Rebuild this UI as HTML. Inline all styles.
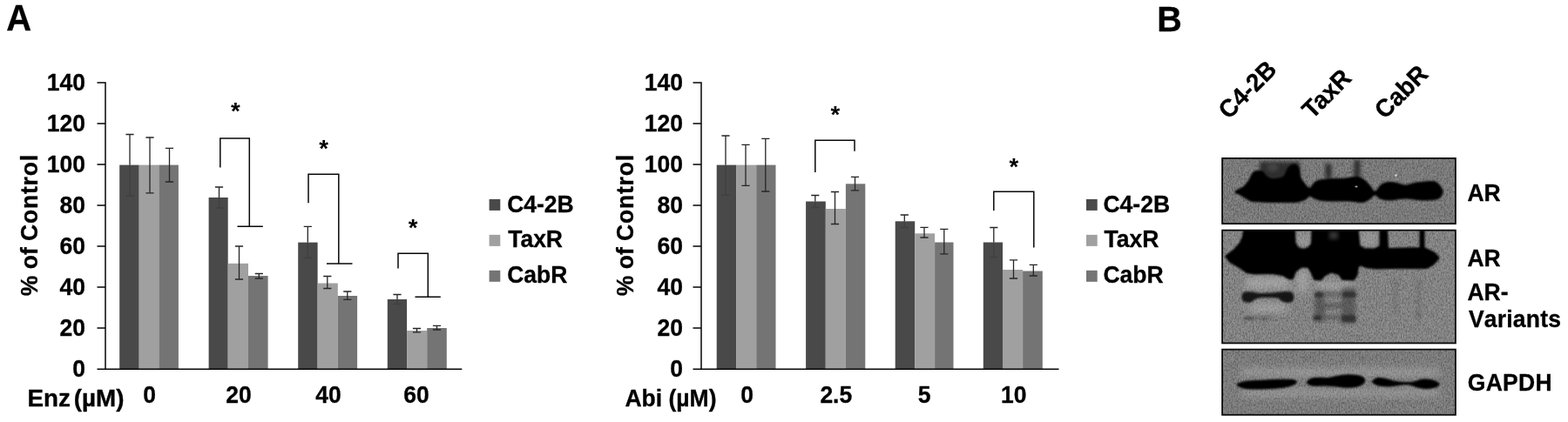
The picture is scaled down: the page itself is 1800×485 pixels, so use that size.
<!DOCTYPE html>
<html lang="en"><head><meta charset="utf-8"><title>Figure</title>
<style>
html,body{margin:0;padding:0;background:#fff}
body{width:1800px;height:485px;overflow:hidden}
svg{display:block}
text{font-family:"Liberation Sans", sans-serif;font-weight:700;fill:#000;stroke:#000;stroke-width:0.3px;stroke-linejoin:round}
.ax{fill:none;stroke:#050505;stroke-width:1.5}
.br{fill:none;stroke:#080808;stroke-width:1.5}
.eb{fill:none;stroke:#262626;stroke-width:1.3}
</style></head><body>
<svg width="1800" height="485" viewBox="0 0 1800 485">
<defs>
<filter id="noise" x="0" y="0" width="100%" height="100%" color-interpolation-filters="sRGB">
<feTurbulence type="fractalNoise" baseFrequency="0.7 0.4" numOctaves="2" seed="7" result="n"/>
<feColorMatrix in="n" type="matrix" values="0 0 0 0 0  0 0 0 0 0  0 0 0 0 0  1.8 1.8 0 0 -1.55"/>
<feComposite in2="SourceGraphic" operator="in"/>
</filter>
<filter id="noise2" x="0" y="0" width="100%" height="100%" color-interpolation-filters="sRGB">
<feTurbulence type="fractalNoise" baseFrequency="0.5 0.12" numOctaves="2" seed="23" result="n"/>
<feColorMatrix in="n" type="matrix" values="0 0 0 0 0  0 0 0 0 0  0 0 0 0 0  0 1.8 1.8 0 -1.45"/>
<feComposite in2="SourceGraphic" operator="in"/>
</filter>
<filter id="b05" x="-50%" y="-50%" width="200%" height="200%"><feGaussianBlur stdDeviation="0.6"/></filter>
<filter id="b1" x="-20%" y="-50%" width="140%" height="200%"><feGaussianBlur stdDeviation="1.1"/></filter>
<filter id="b2" x="-30%" y="-50%" width="160%" height="200%"><feGaussianBlur stdDeviation="2.2"/></filter>
<filter id="b4" x="-30%" y="-60%" width="160%" height="220%"><feGaussianBlur stdDeviation="4"/></filter>
<clipPath id="c1"><rect x="1403.1" y="181.9" width="267.8" height="75.2"/></clipPath>
<clipPath id="c2"><rect x="1403.1" y="264.6" width="267.8" height="129.8"/></clipPath>
<clipPath id="c3"><rect x="1403.1" y="401.6" width="267.8" height="75.2"/></clipPath>
</defs>
<rect width="1800" height="485" fill="#fff"/>

<text transform="translate(7.3 35.3) scale(1 1.04)" font-size="40" text-anchor="start" >A</text>
<text transform="translate(1328.3 35.7) scale(1 1.04)" font-size="39.6" text-anchor="start" >B</text>
<rect x="137.2" y="189.6" width="22.50" height="234.90" fill="#494949"/>
<rect x="159.7" y="189.6" width="22.70" height="234.90" fill="#a0a0a0"/>
<rect x="182.4" y="189.6" width="22.50" height="234.90" fill="#747474"/>
<rect x="239.6" y="227" width="22.10" height="197.50" fill="#494949"/>
<rect x="261.7" y="302.8" width="23.30" height="121.70" fill="#a0a0a0"/>
<rect x="285.0" y="317" width="22.60" height="107.50" fill="#747474"/>
<rect x="342.2" y="278.6" width="22.40" height="145.90" fill="#494949"/>
<rect x="364.6" y="325.5" width="23.20" height="99.00" fill="#a0a0a0"/>
<rect x="387.8" y="340" width="22.30" height="84.50" fill="#747474"/>
<rect x="444.8" y="344" width="22.30" height="80.50" fill="#494949"/>
<rect x="467.1" y="380" width="23.10" height="44.50" fill="#a0a0a0"/>
<rect x="490.2" y="377" width="22.60" height="47.50" fill="#747474"/>
<path d="M144.4 154.5H153.6M149 154.5V189.6" class="eb"/>
<path d="M149 189.6V225M144.4 225H153.6" class="eb" style="stroke:#3a3a3a;opacity:.6"/>
<path d="M167.4 158H176.6M172 158V221.8M167.4 221.8H176.6" class="eb"/>
<path d="M189.9 170.3H199.1M194.5 170.3V209M189.9 209H199.1" class="eb"/>
<path d="M246.9 215H256.1M251.5 215V227" class="eb"/>
<path d="M251.5 227V239M246.9 239H256.1" class="eb" style="stroke:#3a3a3a;opacity:.6"/>
<path d="M269.9 283H279.1M274.5 283V321M269.9 321H279.1" class="eb"/>
<path d="M292.7 314.5H301.90000000000003M297.3 314.5V320M292.7 320H301.90000000000003" class="eb"/>
<path d="M348.7 260.3H357.90000000000003M353.3 260.3V278.6" class="eb"/>
<path d="M353.3 278.6V296.5M348.7 296.5H357.90000000000003" class="eb" style="stroke:#3a3a3a;opacity:.6"/>
<path d="M371.2 317.5H380.40000000000003M375.8 317.5V331.5M371.2 331.5H380.40000000000003" class="eb"/>
<path d="M394.2 335H403.40000000000003M398.8 335V344.3M394.2 344.3H403.40000000000003" class="eb"/>
<path d="M451.4 338.5H460.6M456 338.5V344" class="eb"/>
<path d="M456 344V349.5M451.4 349.5H460.6" class="eb" style="stroke:#3a3a3a;opacity:.6"/>
<path d="M473.9 377.5H483.1M478.5 377.5V381.8M473.9 381.8H483.1" class="eb"/>
<path d="M496.9 374.3H506.1M501.5 374.3V379M496.9 379H506.1" class="eb"/>
<path d="M121 94.3V424.9M111.5 95H121M111.5 142H121M111.5 189H121M111.5 236H121M111.5 283H121M111.5 330H121M111.5 377H121M111.5 424.25H530.3" class="ax"/>
<text transform="translate(98 103.8) scale(1 1.04)" font-size="26.5" text-anchor="end" >140</text>
<text transform="translate(98 150.8) scale(1 1.04)" font-size="26.5" text-anchor="end" >120</text>
<text transform="translate(98 197.8) scale(1 1.04)" font-size="26.5" text-anchor="end" >100</text>
<text transform="translate(98 244.8) scale(1 1.04)" font-size="26.5" text-anchor="end" >80</text>
<text transform="translate(98 291.8) scale(1 1.04)" font-size="26.5" text-anchor="end" >60</text>
<text transform="translate(98 338.8) scale(1 1.04)" font-size="26.5" text-anchor="end" >40</text>
<text transform="translate(98 385.8) scale(1 1.04)" font-size="26.5" text-anchor="end" >20</text>
<text transform="translate(98 432.8) scale(1 1.04)" font-size="26.5" text-anchor="end" >0</text>
<text transform="translate(171.7 462.8) scale(1 1.04)" font-size="26.5" text-anchor="middle" >0</text>
<text transform="translate(274 462.8) scale(1 1.04)" font-size="26.5" text-anchor="middle" >20</text>
<text transform="translate(376.9 462.8) scale(1 1.04)" font-size="26.5" text-anchor="middle" >40</text>
<text transform="translate(478.1 462.8) scale(1 1.04)" font-size="26.5" text-anchor="middle" >60</text>
<text transform="translate(31.4 467.3) scale(1.05 1.04)" font-size="26.5">Enz</text>
<text transform="translate(84.8 467.3) scale(1.05 1.04)" font-size="26.5">(µM)</text>
<text transform="translate(43.2 340.2) rotate(-90) scale(1 1.04)" font-size="26.5">% of <tspan style="letter-spacing:0.8px">Control</tspan></text>
<rect x="561.6" y="228.90" width="12.7" height="13" fill="#494949"/>
<text transform="translate(582.2 243.5) scale(1 1.04)" font-size="26.5" text-anchor="start" >C4-2B</text>
<rect x="561.6" y="269.85" width="12.7" height="13" fill="#a0a0a0"/>
<text transform="translate(583.2 284.45) scale(1 1.04)" font-size="26.5" text-anchor="start" >TaxR</text>
<rect x="561.6" y="310.80" width="12.7" height="13" fill="#747474"/>
<text transform="translate(582.2 325.4) scale(1 1.04)" font-size="26.5" text-anchor="start" >CabR</text>
<path d="M252.8 192.5V159H286.3V260.3M272.5 260.3H301.8" class="br"/>
<path d="M354 233.3V200.3H388.8V303M375 303H404.5" class="br"/>
<path d="M457 308.5V291.3H491.3V341.3M476.5 341.3H505.8" class="br"/>
<text x="270.3" y="137.3" font-size="27.5" text-anchor="middle" style="stroke:none">*</text>
<text x="371.5" y="179.8" font-size="27.5" text-anchor="middle" style="stroke:none">*</text>
<text x="474" y="271.0" font-size="27.5" text-anchor="middle" style="stroke:none">*</text>
<rect x="822.7" y="189.6" width="22.40" height="234.90" fill="#494949"/>
<rect x="845.1" y="189.6" width="23.10" height="234.90" fill="#a0a0a0"/>
<rect x="868.2" y="189.6" width="22.30" height="234.90" fill="#747474"/>
<rect x="925.1" y="231.5" width="22.70" height="193.00" fill="#494949"/>
<rect x="947.8" y="240" width="23.10" height="184.50" fill="#a0a0a0"/>
<rect x="970.9" y="211.3" width="22.40" height="213.20" fill="#747474"/>
<rect x="1027.7" y="254.3" width="22.50" height="170.20" fill="#494949"/>
<rect x="1050.2" y="268.3" width="22.90" height="156.20" fill="#a0a0a0"/>
<rect x="1073.1" y="278.5" width="21.40" height="146.00" fill="#747474"/>
<rect x="1128.8" y="278.5" width="22.20" height="146.00" fill="#494949"/>
<rect x="1151.0" y="310" width="23.10" height="114.50" fill="#a0a0a0"/>
<rect x="1174.1" y="311.5" width="22.70" height="113.00" fill="#747474"/>
<path d="M828.4 156H837.6M833 156V189.6" class="eb"/>
<path d="M833 189.6V224M828.4 224H837.6" class="eb" style="stroke:#3a3a3a;opacity:.6"/>
<path d="M851.4 166.3H860.6M856 166.3V213.3M851.4 213.3H860.6" class="eb"/>
<path d="M874.1999999999999 159.3H883.4M878.8 159.3V220M874.1999999999999 220H883.4" class="eb"/>
<path d="M931.1999999999999 224.5H940.4M935.8 224.5V231.5" class="eb"/>
<path d="M935.8 231.5V238.5M931.1999999999999 238.5H940.4" class="eb" style="stroke:#3a3a3a;opacity:.6"/>
<path d="M953.9 220.5H963.1M958.5 220.5V257.5M953.9 257.5H963.1" class="eb"/>
<path d="M976.9 203.3H986.1M981.5 203.3V218.8M976.9 218.8H986.1" class="eb"/>
<path d="M1033.7 247H1042.8999999999999M1038.3 247V254.3" class="eb"/>
<path d="M1038.3 254.3V261.5M1033.7 261.5H1042.8999999999999" class="eb" style="stroke:#3a3a3a;opacity:.6"/>
<path d="M1056.4 261.3H1065.6M1061 261.3V273M1056.4 273H1065.6" class="eb"/>
<path d="M1079.2 263.3H1088.3999999999999M1083.8 263.3V291.8M1079.2 291.8H1088.3999999999999" class="eb"/>
<path d="M1136.2 261.5H1145.3999999999999M1140.8 261.5V278.5" class="eb"/>
<path d="M1140.8 278.5V295.5M1136.2 295.5H1145.3999999999999" class="eb" style="stroke:#3a3a3a;opacity:.6"/>
<path d="M1158.9 298.8H1168.1M1163.5 298.8V320M1158.9 320H1168.1" class="eb"/>
<path d="M1181.7 304.3H1190.8999999999999M1186.3 304.3V317M1181.7 317H1190.8999999999999" class="eb"/>
<path d="M805.0 94.3V424.9M795.5 95H805.0M795.5 142H805.0M795.5 189H805.0M795.5 236H805.0M795.5 283H805.0M795.5 330H805.0M795.5 377H805.0M795.5 424.25H1215.5" class="ax"/>
<text transform="translate(784 103.8) scale(1 1.04)" font-size="26.5" text-anchor="end" >140</text>
<text transform="translate(784 150.8) scale(1 1.04)" font-size="26.5" text-anchor="end" >120</text>
<text transform="translate(784 197.8) scale(1 1.04)" font-size="26.5" text-anchor="end" >100</text>
<text transform="translate(784 244.8) scale(1 1.04)" font-size="26.5" text-anchor="end" >80</text>
<text transform="translate(784 291.8) scale(1 1.04)" font-size="26.5" text-anchor="end" >60</text>
<text transform="translate(784 338.8) scale(1 1.04)" font-size="26.5" text-anchor="end" >40</text>
<text transform="translate(784 385.8) scale(1 1.04)" font-size="26.5" text-anchor="end" >20</text>
<text transform="translate(784 432.8) scale(1 1.04)" font-size="26.5" text-anchor="end" >0</text>
<text transform="translate(857.6 462.8) scale(1 1.04)" font-size="26.5" text-anchor="middle" >0</text>
<text transform="translate(959.8 462.8) scale(1 1.04)" font-size="26.5" text-anchor="middle" >2.5</text>
<text transform="translate(1061.1 462.8) scale(1 1.04)" font-size="26.5" text-anchor="middle" >5</text>
<text transform="translate(1163.8 462.8) scale(1 1.04)" font-size="26.5" text-anchor="middle" >10</text>
<text transform="translate(717.5 467.3) scale(1 1.04)" font-size="26.5" text-anchor="start" >Abi (µM)</text>
<text transform="translate(727.3 340.2) rotate(-90) scale(1 1.04)" font-size="26.5">% of <tspan style="letter-spacing:0.8px">Control</tspan></text>
<rect x="1247" y="228.90" width="12.7" height="13" fill="#494949"/>
<text transform="translate(1266.5 243.5) scale(1 1.04)" font-size="26.5" text-anchor="start" >C4-2B</text>
<rect x="1247" y="269.85" width="12.7" height="13" fill="#a0a0a0"/>
<text transform="translate(1267.5 284.45) scale(1 1.04)" font-size="26.5" text-anchor="start" >TaxR</text>
<rect x="1247" y="310.80" width="12.7" height="13" fill="#747474"/>
<text transform="translate(1266.5 325.4) scale(1 1.04)" font-size="26.5" text-anchor="start" >CabR</text>
<path d="M935.8 198V161.3H981V173.8" class="br"/>
<path d="M1140.8 242V220.3H1186.8V284.5" class="br"/>
<text x="958.8" y="141.1" font-size="27.5" text-anchor="middle" style="stroke:none">*</text>
<text x="1163.8" y="201.0" font-size="27.5" text-anchor="middle" style="stroke:none">*</text>
<text transform="translate(1410.5 138.2) rotate(-45) scale(1 1.04)" font-size="27.7">C4-2B</text>
<text transform="translate(1506.5 137.8) rotate(-45) scale(1 1.04)" font-size="27.7">TaxR</text>
<text transform="translate(1589.8 138) rotate(-45) scale(1 1.04)" font-size="27.7">CabR</text>
<g clip-path="url(#c1)">
<rect x="1403.1" y="181.9" width="267.8" height="75.2" fill="#888888"/>
<rect x="1403.1" y="181.9" width="267.8" height="75.2" fill="#fff" filter="url(#noise)" opacity="0.3"/>
<rect x="1403.1" y="181.9" width="267.8" height="75.2" fill="#000" filter="url(#noise2)" opacity="0.08"/>
<g filter="url(#b2)" fill="#262626" opacity="0.9">
<rect x="1446" y="186" width="46" height="20"/>
<rect x="1521.5" y="188" width="7" height="18"/>
<rect x="1554.5" y="184" width="7" height="20"/>
</g>
<g filter="url(#b2)" fill="#5c5c5c" opacity="0.5"><ellipse cx="1461" cy="192.5" rx="7" ry="4.5"/></g>
<path d="M1417.5 220.5C1418.2 219.0 1424.8 216.8 1427.5 214.5C1430.2 212.2 1432.3 209.0 1434.0 206.5C1435.7 204.0 1436.3 201.1 1437.5 199.5C1438.7 197.9 1439.1 197.2 1441.0 196.8C1442.9 196.4 1447.0 196.0 1449.0 196.8C1451.0 197.6 1451.2 200.1 1453.0 201.5C1454.8 202.9 1456.7 204.8 1460.0 205.0C1463.3 205.2 1470.0 204.8 1473.0 203.0C1476.0 201.2 1476.4 196.2 1478.0 194.0C1479.6 191.8 1480.8 190.2 1482.5 189.5C1484.2 188.8 1487.0 188.6 1488.5 189.5C1490.0 190.4 1490.8 192.8 1491.5 195.0C1492.2 197.2 1491.6 200.5 1492.5 203.0C1493.4 205.5 1495.2 207.8 1497.0 210.0C1498.8 212.2 1501.3 216.2 1503.5 216.0C1505.7 215.8 1507.6 210.6 1510.0 209.0C1512.4 207.4 1514.7 207.1 1518.0 206.5C1521.3 205.9 1525.5 205.8 1530.0 205.5C1534.5 205.2 1540.5 205.4 1545.0 205.0C1549.5 204.6 1553.7 202.8 1557.0 203.0C1560.3 203.2 1562.5 204.4 1565.0 206.0C1567.5 207.6 1569.8 210.2 1572.0 212.5C1574.2 214.8 1576.2 220.1 1578.5 220.0C1580.8 219.9 1583.2 213.8 1586.0 212.0C1588.8 210.2 1592.0 209.6 1595.0 209.3C1598.0 209.1 1600.9 209.9 1604.0 210.5C1607.1 211.1 1610.3 213.0 1613.5 213.0C1616.7 213.0 1619.9 211.1 1623.0 210.5C1626.1 209.9 1628.3 209.6 1632.0 209.3C1635.7 209.0 1641.8 208.2 1645.0 208.5C1648.2 208.8 1649.4 209.8 1651.0 211.0C1652.6 212.2 1653.6 214.4 1654.5 216.0C1655.4 217.6 1656.3 218.8 1656.2 220.5C1656.1 222.2 1655.2 224.6 1654.0 226.0C1652.8 227.4 1652.5 228.3 1648.8 229.0C1645.1 229.7 1637.9 230.2 1632.0 230.0C1626.1 229.8 1619.7 228.0 1613.5 228.0C1607.3 228.0 1599.9 230.0 1595.0 230.0C1590.1 230.0 1586.8 229.0 1584.0 228.0C1581.2 227.0 1580.5 223.8 1578.5 224.0C1576.5 224.2 1574.5 227.6 1572.0 229.0C1569.5 230.4 1567.4 232.2 1563.5 232.5C1559.6 232.8 1554.9 231.2 1548.5 231.0C1542.1 230.8 1530.6 231.2 1525.0 231.0C1519.4 230.8 1517.7 230.5 1515.0 230.0C1512.3 229.5 1510.9 228.8 1509.0 228.0C1507.1 227.2 1505.2 225.3 1503.5 225.5C1501.8 225.7 1500.4 228.2 1499.0 229.0C1497.6 229.8 1497.5 229.9 1495.0 230.5C1492.5 231.1 1492.9 232.3 1484.0 232.5C1475.1 232.7 1450.2 232.4 1441.5 231.8C1432.8 231.2 1435.1 230.4 1432.0 229.0C1428.9 227.6 1425.4 224.9 1423.0 223.5C1420.6 222.1 1416.8 222.0 1417.5 220.5Z" fill="#040404" stroke="#040404" stroke-width="1" stroke-linejoin="round" filter="url(#b1)"/>
<ellipse cx="1557" cy="214.5" rx="1.6" ry="0.9" fill="#ccc" filter="url(#b05)" opacity="0.8"/>
<circle cx="1602.4" cy="201.5" r="1.3" fill="#e4e4e4" filter="url(#b05)" opacity="0.85"/>
</g>
<rect x="1403.1" y="181.9" width="267.8" height="75.2" fill="none" stroke="#0a0a0a" stroke-width="1.8"/>
<g clip-path="url(#c2)">
<rect x="1403.1" y="264.6" width="267.8" height="129.8" fill="#929292"/>
<rect x="1403.1" y="264.6" width="267.8" height="129.8" fill="#fff" filter="url(#noise)" opacity="0.3"/>
<rect x="1403.1" y="264.6" width="267.8" height="129.8" fill="#000" filter="url(#noise2)" opacity="0.08"/>
<g filter="url(#b4)" fill="#c0c0c0" opacity="0.5">
<rect x="1430" y="318" width="50" height="14"/><rect x="1434" y="349" width="44" height="10"/>
<rect x="1489" y="310" width="13" height="26"/><rect x="1510" y="324" width="44" height="9"/>
<rect x="1489" y="268" width="15" height="14" opacity="0.7"/><rect x="1562" y="268" width="20" height="14" opacity="0.7"/>
</g>
<g filter="url(#b2)" fill="#303030" opacity="0.5">
<rect x="1540" y="330" width="16" height="42"/>
<rect x="1509" y="334" width="12" height="36"/>
<rect x="1509" y="349" width="47" height="5"/>
<rect x="1509" y="336" width="47" height="4"/>
<rect x="1509" y="363" width="47" height="4"/>
</g>
<g filter="url(#b2)" fill="#404040" opacity="0.22">
<rect x="1626" y="320" width="5" height="50"/><rect x="1600" y="320" width="4" height="44"/>
<rect x="1427" y="363" width="36" height="5"/>
</g>
<path d="M1428.5 262.0L1427.0 272.0L1424.0 279.0L1417.0 287.0L1407.0 294.5L1412.0 301.0L1424.0 308.0L1431.0 313.0L1440.0 314.5L1460.0 314.0L1472.0 316.0L1480.0 320.5L1484.0 320.0L1487.0 312.0L1494.0 306.5L1502.0 307.0L1506.0 314.0L1509.0 321.0L1516.0 321.5L1521.0 316.0L1528.0 312.5L1537.0 315.0L1541.0 321.0L1554.0 321.5L1557.5 316.0L1559.0 306.0L1562.0 304.5L1568.0 307.0L1580.0 308.5L1600.0 308.0L1638.0 308.0L1645.0 304.0L1651.6 296.5L1647.0 291.0L1640.0 287.5L1634.5 285.0L1634.5 262.0L1630.5 262.0L1630.5 285.0L1593.0 286.0L1592.0 262.0L1584.5 262.0L1584.5 283.0L1578.0 286.5L1566.0 286.0L1560.5 283.0L1558.5 262.0L1506.5 262.0L1506.0 280.0L1502.0 285.0L1496.0 287.0L1490.0 285.0L1486.5 279.0L1486.0 262.0Z" fill="#040404" stroke="#040404" stroke-width="2" stroke-linejoin="round" filter="url(#b1)"/>
<g filter="url(#b2)" fill="#3a3a3a" opacity="0.9"><rect x="1526" y="266" width="10" height="9"/></g>
<path d="M1425.5 340.0C1425.8 338.7 1426.2 336.8 1428.0 336.0C1429.8 335.2 1433.0 335.1 1436.0 335.3C1439.0 335.5 1442.0 336.8 1446.0 337.0C1450.0 337.2 1455.7 336.8 1460.0 336.5C1464.3 336.2 1468.5 335.5 1472.0 335.3C1475.5 335.1 1478.8 334.7 1481.0 335.3C1483.2 335.9 1484.4 337.3 1485.0 339.0C1485.6 340.7 1485.5 344.0 1484.5 345.5C1483.5 347.0 1481.1 347.8 1479.0 348.0C1476.9 348.2 1474.2 347.4 1472.0 346.5C1469.8 345.6 1469.7 343.2 1466.0 342.5C1462.3 341.8 1454.2 341.8 1450.0 342.0C1445.8 342.2 1443.3 343.1 1441.0 344.0C1438.7 344.9 1438.0 347.0 1436.0 347.5C1434.0 348.0 1430.7 347.6 1429.0 347.0C1427.3 346.4 1426.6 345.2 1426.0 344.0C1425.4 342.8 1425.2 341.3 1425.5 340.0Z" fill="#0c0c0c" filter="url(#b1)" opacity="0.92"/>
<g filter="url(#b1)" fill="#1c1c1c" opacity="0.6">
<rect x="1509.5" y="336" width="9" height="5.5" rx="2"/><rect x="1541.5" y="335" width="15" height="7" rx="2"/>
<rect x="1507" y="362.5" width="10" height="5.5" rx="2"/><rect x="1540" y="362" width="16.5" height="8" rx="2"/>
</g>
<g filter="url(#b1)" fill="#2a2a2a" opacity="0.45">
<rect x="1428" y="364.5" width="12" height="3" rx="1.5"/><rect x="1447" y="365.5" width="8" height="2" rx="1"/>
</g>
</g>
<rect x="1403.1" y="264.6" width="267.8" height="129.8" fill="none" stroke="#0a0a0a" stroke-width="1.8"/>
<g clip-path="url(#c3)">
<rect x="1403.1" y="401.6" width="267.8" height="75.2" fill="#8a8a8a"/>
<rect x="1403.1" y="401.6" width="267.8" height="75.2" fill="#fff" filter="url(#noise)" opacity="0.3"/>
<rect x="1403.1" y="401.6" width="267.8" height="75.2" fill="#000" filter="url(#noise2)" opacity="0.08"/>
<g filter="url(#b4)" fill="#c4c4c4" opacity="0.45">
<rect x="1424" y="424" width="228" height="8"/><rect x="1424" y="448" width="228" height="7"/>
</g>
<g filter="url(#b1)" fill="#040404" stroke="#040404" stroke-width="1.2" stroke-linejoin="round">
<path d="M1420.2 442.3C1420.2 441.2 1423.8 439.8 1427.4 439.0C1431.0 438.2 1436.1 438.0 1441.9 437.6C1447.8 437.2 1455.6 436.7 1462.5 436.5C1469.4 436.3 1478.8 436.1 1483.1 436.5C1487.4 436.9 1488.2 438.0 1488.2 439.0C1488.2 440.0 1485.7 441.7 1483.1 442.7C1480.5 443.7 1476.9 444.6 1472.8 445.2C1468.7 445.8 1464.2 446.1 1458.4 446.4C1452.6 446.7 1442.9 447.0 1437.7 446.9C1432.5 446.8 1430.3 446.6 1427.4 445.8C1424.5 445.0 1420.2 443.4 1420.2 442.3Z"/><path d="M1500.6 439.0C1501.4 437.8 1503.8 435.2 1507.8 434.5C1511.8 433.8 1519.5 434.9 1524.3 434.5C1529.1 434.1 1532.6 432.6 1536.7 432.0C1540.8 431.4 1545.0 430.7 1549.1 430.8C1553.2 430.9 1558.5 431.4 1561.4 432.4C1564.3 433.3 1566.2 434.9 1566.6 436.5C1566.9 438.1 1565.7 440.3 1563.5 441.7C1561.3 443.1 1557.0 444.3 1553.2 444.8C1549.4 445.3 1545.6 445.1 1540.8 444.8C1536.0 444.5 1529.8 443.4 1524.3 443.1C1518.8 442.8 1511.4 443.3 1507.8 443.1C1504.2 442.9 1503.9 442.4 1502.7 441.7C1501.5 441.0 1499.8 440.2 1500.6 439.0Z"/><path d="M1575.9 438.2C1576.6 437.2 1578.6 434.9 1581.0 434.5C1583.4 434.1 1586.7 434.8 1590.3 435.5C1593.9 436.2 1598.9 437.9 1602.7 438.6C1606.5 439.3 1609.6 439.5 1613.0 439.6C1616.4 439.7 1619.9 439.6 1623.3 439.0C1626.7 438.4 1630.2 436.4 1633.6 436.1C1637.0 435.8 1640.9 436.2 1643.9 437.0C1646.9 437.8 1651.1 439.8 1651.8 441.1C1652.5 442.4 1650.3 443.9 1648.0 444.8C1645.7 445.7 1641.1 446.4 1637.7 446.4C1634.3 446.4 1630.8 445.6 1627.4 444.8C1624.0 444.0 1620.5 442.1 1617.1 441.7C1613.7 441.3 1610.6 441.9 1606.8 442.3C1603.0 442.7 1598.5 443.7 1594.4 443.8C1590.3 443.9 1585.0 443.3 1582.1 442.7C1579.2 442.1 1577.9 441.1 1576.9 440.3C1575.9 439.6 1575.2 439.2 1575.9 438.2Z"/>
</g>
</g>
<rect x="1403.1" y="401.6" width="267.8" height="75.2" fill="none" stroke="#0a0a0a" stroke-width="1.8"/>
<text transform="translate(1684.5 231.3) scale(1 1.04)" font-size="26.5" text-anchor="start" >AR</text>
<text transform="translate(1684.5 306.3) scale(1 1.04)" font-size="26.5" text-anchor="start" >AR</text>
<text transform="translate(1684.5 345) scale(1 1.04)" font-size="26.5" text-anchor="start" >AR-</text>
<text transform="translate(1686 376.3) scale(1 1.04)" font-size="26.5" text-anchor="start" style="font-kerning:none;letter-spacing:0.2px">Variants</text>
<text transform="translate(1684.8 449) scale(1 1.04)" font-size="26.5" text-anchor="start" style="letter-spacing:0.3px">GAPDH</text>
</svg>
</body></html>
